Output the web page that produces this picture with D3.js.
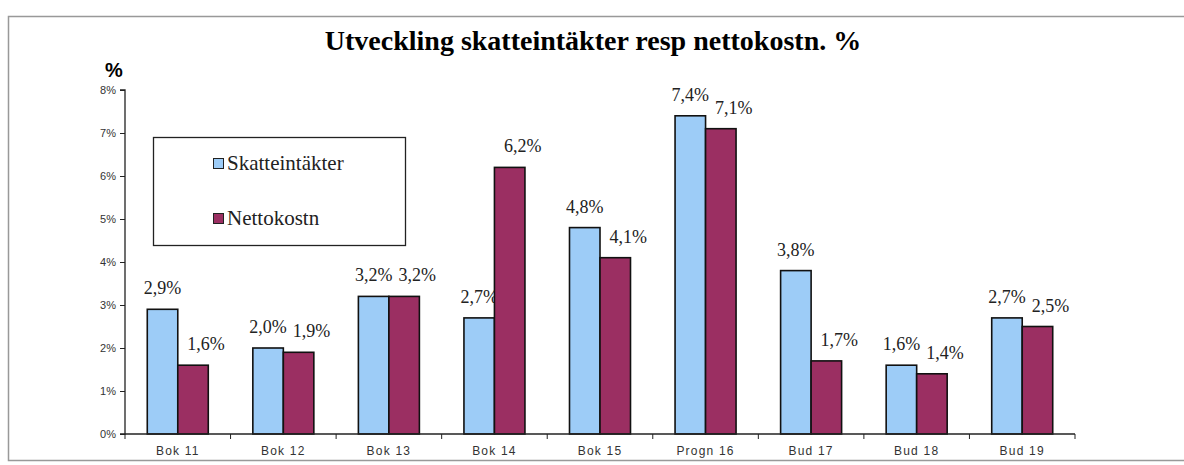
<!DOCTYPE html>
<html>
<head>
<meta charset="utf-8">
<script src="https://cdn.jsdelivr.net/npm/d3@7"></script>
<style>
  body { margin: 0; background: #fff; }
  svg { display: block; }
</style>
</head>
<body>
<div id="chart"></div>
<script>
// chart data
var categories = ["Bok 11", "Bok 12", "Bok 13", "Bok 14", "Bok 15", "Progn 16", "Bud 17", "Bud 18", "Bud 19"];
var skatteintakter = [2.9, 2.0, 3.2, 2.7, 4.8, 7.4, 3.8, 1.6, 2.7];
var nettokostn = [1.6, 1.9, 3.2, 6.2, 4.1, 7.1, 1.7, 1.4, 2.5];
var seriesNames = ["Skatteintäkter", "Nettokostn"];
var yTicks = [0, 1, 2, 3, 4, 5, 6, 7, 8];

var W = 1184, H = 465;
var plot = {left: 125, right: 1075, top: 90, bottom: 434};
var colors = ["#9dccf7", "#9b2f62"];
var serif = "'Liberation Serif', 'Times New Roman', serif";
var sans = "'Liberation Sans', Arial, sans-serif";

var svg = d3.select("#chart").append("svg")
  .attr("width", W)
  .attr("height", H);

// outer frame
svg.append("path")
  .attr("d", "M1184,16.5 H8.5 V460.5 H1184")
  .attr("fill", "none")
  .attr("stroke", "#999")
  .attr("stroke-width", 1.5);

var x = d3.scaleBand()
  .domain(categories)
  .range([plot.left, plot.right]);

var x1 = d3.scaleBand()
  .domain([0, 1])
  .range([0, 61])
  .padding(0);

var y = d3.scaleLinear()
  .domain([0, 8])
  .range([plot.bottom, plot.top]);

// title
svg.append("text")
  .attr("x", 593)
  .attr("y", 50)
  .attr("text-anchor", "middle")
  .style("font-family", serif)
  .style("font-weight", "bold")
  .style("font-size", "28px")
  .text("Utveckling skatteintäkter resp nettokostn. %");

svg.append("text")
  .attr("x", 114)
  .attr("y", 77)
  .attr("text-anchor", "middle")
  .style("font-family", sans)
  .style("font-weight", "bold")
  .style("font-size", "20px")
  .text("%");

// bars
var series = [skatteintakter, nettokostn];
series.forEach(function (vals, s) {
  var g = svg.append("g").attr("class", "series-" + s);
  g.selectAll("rect")
    .data(vals)
    .enter().append("rect")
    .attr("x", function (d, i) { return x(categories[i]) + x.bandwidth() / 2 - 30.5 + x1(s); })
    .attr("y", function (d) { return y(d); })
    .attr("width", x1.bandwidth())
    .attr("height", function (d) { return y(0) - y(d); })
    .attr("fill", colors[s])
    .attr("stroke", "#111")
    .attr("stroke-width", 1.6);

  g.selectAll("text")
    .data(vals)
    .enter().append("text")
    .attr("x", function (d, i) { return x(categories[i]) + x.bandwidth() / 2 - 30.5 + x1(s) + x1.bandwidth() / 2 + (s == 1 ? 13 : 0); })
    .attr("y", function (d) { return y(d) - 15; })
    .attr("text-anchor", "middle")
    .style("font-family", serif)
    .style("font-size", "18px")
    .style("fill", "#222")
    .text(function (d) { return d.toFixed(1).replace(".", ",") + "%"; });
});

// y axis
var yAxis = d3.axisLeft(y)
  .tickValues(yTicks)
  .tickSize(5)
  .tickPadding(4)
  .tickFormat(function (d) { return d + "%"; });

var gy = svg.append("g")
  .attr("transform", "translate(" + plot.left + ",0)")
  .call(yAxis);
gy.select(".domain").attr("stroke", "#222").attr("stroke-width", 1.3).attr("d", "M-5," + plot.top + "H0V" + plot.bottom + "H-5");
gy.selectAll(".tick line").attr("stroke", "#222");
gy.selectAll(".tick text")
  .style("font-family", sans)
  .style("font-size", "11px")
  .style("fill", "#333");

// x axis
var gx = svg.append("g")
  .attr("transform", "translate(0," + plot.bottom + ")");
gx.append("line")
  .attr("x1", plot.left).attr("x2", plot.right)
  .attr("stroke", "#222").attr("stroke-width", 1.3);
gx.selectAll(".xtick")
  .data(categories.concat(["end"]))
  .enter().append("line")
  .attr("class", "xtick")
  .attr("x1", function (d, i) { return plot.left + i * x.step(); })
  .attr("x2", function (d, i) { return plot.left + i * x.step(); })
  .attr("y1", 0).attr("y2", 5)
  .attr("stroke", "#222");
gx.selectAll(".xlabel")
  .data(categories)
  .enter().append("text")
  .attr("class", "xlabel")
  .attr("x", function (d) { return x(d) + x.bandwidth() / 2; })
  .attr("y", 21)
  .attr("text-anchor", "middle")
  .style("font-family", sans)
  .style("font-size", "12px")
  .style("letter-spacing", "1.2px")
  .style("fill", "#333")
  .text(function (d) { return d; });

// legend
var legend = svg.append("g");
legend.append("rect")
  .attr("x", 153.5).attr("y", 137.5)
  .attr("width", 252).attr("height", 108)
  .attr("fill", "#fff")
  .attr("stroke", "#222")
  .attr("stroke-width", 1.3);
seriesNames.forEach(function (name, s) {
  var ly = 165 + s * 55;
  legend.append("rect")
    .attr("x", 213.5).attr("y", ly - 6.5)
    .attr("width", 10).attr("height", 10)
    .attr("fill", colors[s])
    .attr("stroke", "#222");
  legend.append("text")
    .attr("x", 227)
    .attr("y", ly + 5)
    .style("font-family", serif)
    .style("font-size", "21px")
    .style("fill", "#222")
    .text(name);
});
</script>
</body>
</html>
